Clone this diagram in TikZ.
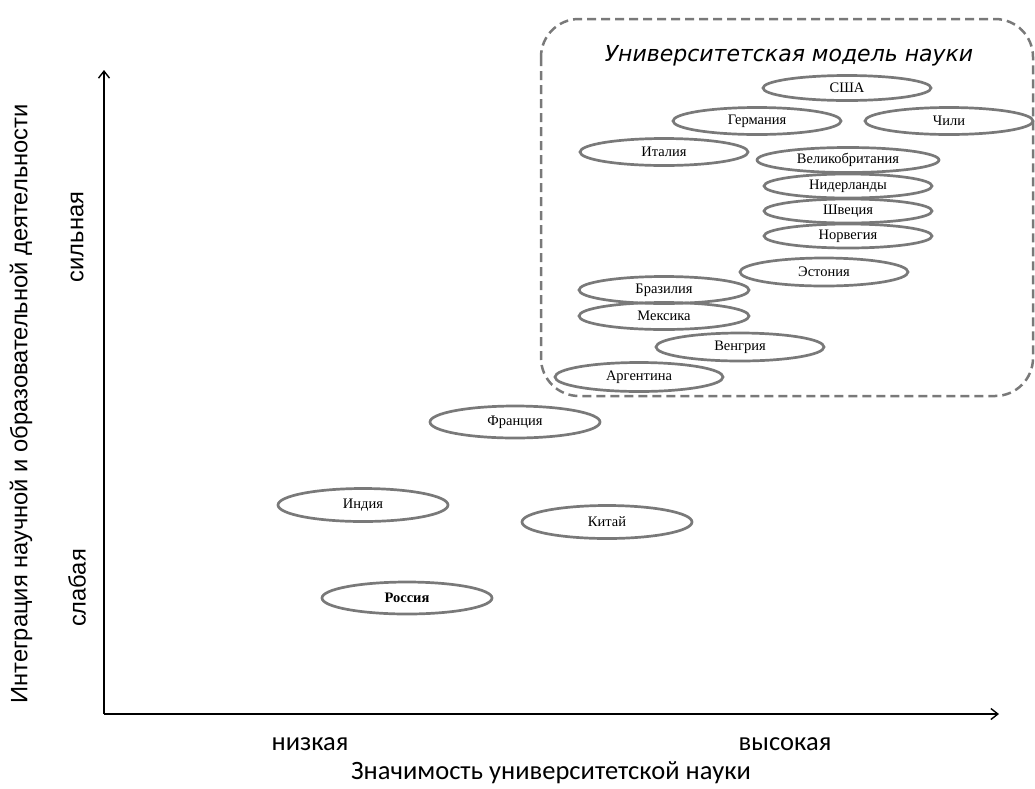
\documentclass[tikz,border=0pt]{standalone}
\usepackage{fontspec}
\setmainfont{Liberation Serif}
\newfontfamily\arialf{Liberation Sans}
\newfontfamily\calf{Carlito}
\newfontfamily\verdf{DejaVu Sans}
\usetikzlibrary{shapes.geometric,arrows.meta}
\tikzset{
  country/.style={ellipse, draw=gray!95!black, line width=2.7pt, inner sep=0pt,
    minimum width=168pt, minimum height=27pt, font=\fontsize{14.5}{16}\selectfont},
  axisline/.style={line width=1.6pt, -{Straight Barb[length=7pt,width=11pt,line width=1.4pt]}},
  frame/.style={draw=gray!95!black, line width=2.5pt, dash pattern=on 9pt off 5pt, rounded corners=38pt},
  vlab/.style={font=\arialf\fontsize{23.7}{28}\selectfont, rotate=90},
  hlab/.style={font=\calf\fontsize{26.5}{30}\selectfont}
}
\begin{document}
\begin{tikzpicture}[x=1pt,y=-1pt]
\useasboundingbox (0,0) rectangle (1035,788);
% frame
\draw[frame] (541,19) rectangle (1033,396);
\node[font=\verdf\itshape\fontsize{22}{26}\selectfont] (title) at (789,56) {Университетская модель науки};
% axes
\coordinate (o) at (104,714);
\coordinate (ytop) at (104,70);
\coordinate (xend) at (999,714);
\draw[axisline] (o) -- (ytop);
\draw[axisline] (o) -- (xend);
% axis labels
\node[vlab] (ylab) at (21,404) {Интеграция научной и образовательной деятельности};
\node[vlab] (strong) at (77,237) {сильная};
\node[vlab] (weak) at (77,588) {слабая};
\node[hlab] (low) at (310,744) {низкая};
\node[hlab] (high) at (785,744) {высокая};
\node[hlab] (xlab) at (551,773) {Значимость университетской науки};
% countries
\node[country, minimum height=25pt] (usa) at (847,88) {США};
\node[country] (ger) at (757,121) {Германия};
\node[country] (chile) at (949,121) {Чили};
\node[country] (ita) at (664,152) {Италия};
\node[country, minimum width=182pt, minimum height=25pt] (uk) at (848,160) {Великобритания};
\node[country, minimum height=24pt] (nl) at (848,186) {Нидерланды};
\node[country, minimum height=24pt] (swe) at (848,211) {Швеция};
\node[country, minimum height=24pt] (nor) at (848,236) {Норвегия};
\node[country, minimum height=28pt] (est) at (824,272) {Эстония};
\node[country, minimum width=170pt, minimum height=27pt] (bra) at (664,290) {Бразилия};
\node[country, minimum width=170pt, minimum height=27pt] (mex) at (664,316) {Мексика};
\node[country, minimum height=28pt] (hun) at (740,347) {Венгрия};
\node[country, minimum height=29pt] (arg) at (639,377) {Аргентина};
\node[country, minimum width=170pt, minimum height=32pt] (fra) at (515,422) {Франция};
\node[country, minimum width=170pt, minimum height=33pt] (ind) at (363,505) {Индия};
\node[country, minimum width=170pt, minimum height=33pt] (chn) at (607,522) {Китай};
\node[country, minimum width=170pt, minimum height=32pt, font=\bfseries\fontsize{14.5}{16}\selectfont] (rus) at (407,598) {Россия};
\end{tikzpicture}
\end{document}
